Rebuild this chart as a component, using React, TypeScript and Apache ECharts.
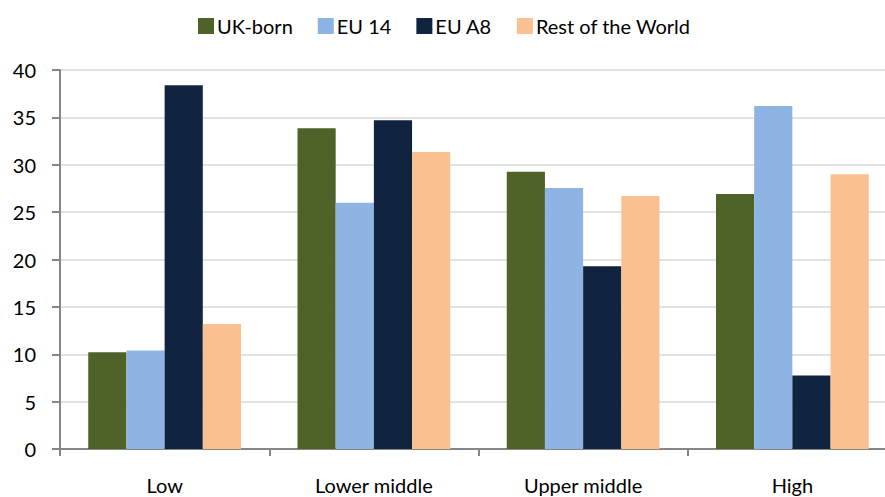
import React, { useEffect, useRef } from "react";
import * as echarts from "echarts";

const categories = ["Low", "Lower middle", "Upper middle", "High"];
const seriesNames = ["UK-born", "EU 14", "EU A8", "Rest of the World"];
const ukBorn = [10.2, 33.85, 29.25, 26.9];
const eu14 = [10.4, 26.0, 27.55, 36.2];
const euA8 = [38.4, 34.7, 19.3, 7.75];
const restOfWorld = [13.2, 31.35, 26.7, 29.0];
const colors = ["#4F6228", "#8EB4E3", "#10243F", "#FAC090"];
const yTicks = { min: 0, max: 40, interval: 5 };

const FONT = "Lato, 'Open Sans', sans-serif";

export default function App() {
  const ref = useRef<HTMLDivElement>(null);
  useEffect(() => {
    if (!ref.current) return;
    const chart = echarts.init(ref.current, undefined, { renderer: "svg" });
    const data = [ukBorn, eu14, euA8, restOfWorld];
    chart.setOption({
      animation: false,
      textStyle: { fontFamily: FONT },
      legend: {
        top: 11,
        left: 193,
        itemWidth: 16,
        itemHeight: 16,
        itemGap: 25,
        icon: "rect",
        textStyle: { fontSize: 20, color: "#000", fontFamily: FONT, padding: [0, 0, 0, -2] },
        data: seriesNames,
      },
      grid: { left: 60, top: 70, right: 0, height: 379, containLabel: false },
      xAxis: {
        type: "category",
        data: categories,
        axisLine: { lineStyle: { color: "#868686", width: 2 } },
        axisTick: { show: true, length: 7, lineStyle: { color: "#868686", width: 2 } },
        axisLabel: { fontSize: 20, color: "#000", margin: 26, fontFamily: FONT },
        splitLine: { show: false },
      },
      yAxis: {
        type: "value",
        min: yTicks.min,
        max: yTicks.max,
        interval: yTicks.interval,
        axisLine: { show: true, lineStyle: { color: "#868686", width: 2 } },
        axisTick: { show: true, length: 8, lineStyle: { color: "#868686", width: 2 } },
        axisLabel: { fontSize: 20, color: "#000", margin: 24, fontFamily: FONT },
        splitLine: { show: true, lineStyle: { color: "#D9D9D9", width: 1.5 } },
      },
      series: seriesNames.map((name, i) => ({
        name,
        type: "bar",
        data: data[i],
        barGap: "0%",
        barCategoryGap: "27%",
        itemStyle: { color: colors[i] },
      })),
    });
    return () => chart.dispose();
  }, []);
  return (
    <div style={{ position: "fixed", left: 0, top: 0, width: 885, height: 497, overflow: "hidden", background: "#fff" }}>
      <div ref={ref} style={{ width: 897, height: 497 }} />
    </div>
  );
}
